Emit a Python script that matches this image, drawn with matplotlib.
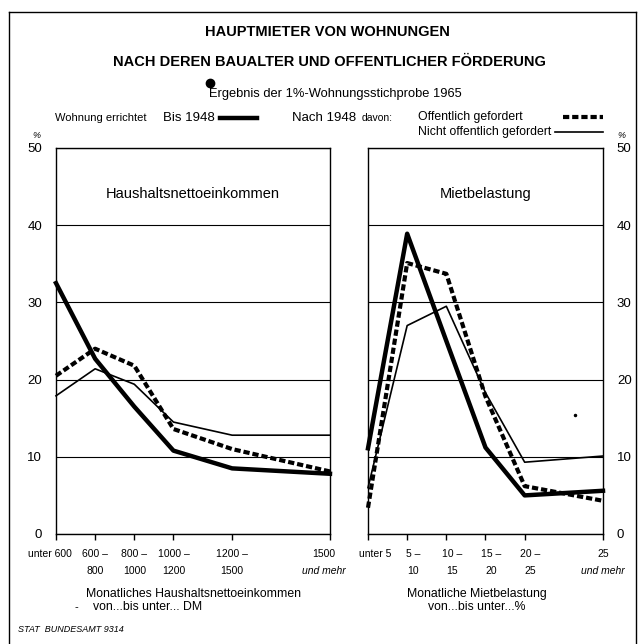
import matplotlib.pyplot as plt
from matplotlib.lines import Line2D

plt.rcParams['font.family'] = ['Liberation Sans', 'DejaVu Sans']

# Haushaltsnettoeinkommen (left panel)
inc_pos = [0, 1, 2, 3, 4.5, 7]
inc_row1 = ['unter 600', '600 –', '800 –', '1000 –', '1200 –', '1500']
inc_row2 = ['', '800', '1000', '1200', '1500', 'und mehr']
inc_bis1948 = [32.5, 22.7, 16.5, 10.8, 8.5, 7.8]
inc_oeff = [20.5, 24.0, 21.8, 13.6, 11.0, 8.1]
inc_nicht = [17.9, 21.4, 19.4, 14.5, 12.8, 12.8]

# Mietbelastung (right panel)
rent_pos = [0, 1, 2, 3, 4, 6]
rent_row1 = ['unter 5', '5 –', '10 –', '15 –', '20 –', '25']
rent_row2 = ['', '10', '15', '20', '25', 'und mehr']
rent_bis1948 = [11.1, 38.9, 25.0, 11.2, 5.0, 5.6]
rent_oeff = [3.4, 35.1, 33.7, 17.8, 6.2, 4.3]
rent_nicht = [6.0, 27.0, 29.5, 18.3, 9.3, 10.1]

yticks = [0, 10, 20, 30, 40, 50]

W = 644.0


def fx(x):
    return x / W


def fy(y):
    return 1 - y / W


fig = plt.figure(figsize=(6.44, 6.44), dpi=100)

# outer frame
for xs, ys in [([9, 636], [12, 12]), ([9, 9], [12, 650]), ([636, 636], [12, 650])]:
    fig.add_artist(Line2D([fx(v) for v in xs], [fy(v) for v in ys], color='black', lw=1))

ax1 = fig.add_axes([fx(56), fy(534), 274 / W, 386 / W])
ax2 = fig.add_axes([fx(368), fy(534), 235 / W, 386 / W])

# label nudges in points (first, middle, last)
panels = [
    (ax1, inc_pos, inc_row1, inc_row2, inc_bis1948, inc_oeff, inc_nicht,
     'Haushaltsnettoeinkommen', (-4.5, 0, -4.5)),
    (ax2, rent_pos, rent_row1, rent_row2, rent_bis1948, rent_oeff, rent_nicht,
     'Mietbelastung', (5, 4, 0)),
]

for ax, pos, row1, row2, a, b, c, title, nudge in panels:
    ax.plot(pos, c, color='black', lw=1.2, clip_on=False, zorder=3)
    ax.plot(pos, a, color='black', lw=3.2, clip_on=False, zorder=4)
    ax.plot(pos, b, color='black', lw=3.0, dashes=(1.5, 0.7), clip_on=False, zorder=5)
    ax.set_xlim(pos[0], pos[-1])
    ax.set_ylim(0, 50)
    ax.set_yticks(yticks)
    ax.grid(axis='y', color='black', lw=0.8)
    ax.set_axisbelow(True)
    ax.set_xticks(pos)
    ax.set_xticklabels([])
    ax.tick_params(axis='x', length=4, width=1, direction='out')
    ax.tick_params(axis='y', length=0, labelsize=9.5, pad=10)
    for sp in ax.spines.values():
        sp.set_linewidth(1)
    n = len(pos)
    for i, (p, t1, t2) in enumerate(zip(pos, row1, row2)):
        dx = nudge[0] if i == 0 else (nudge[2] if i == n - 1 else nudge[1])
        ax.annotate(t1, xy=(p, 0), xycoords=('data', 'axes fraction'),
                    xytext=(dx, -14.5), textcoords='offset points',
                    ha='center', va='center', fontsize=7.5)
        ax.annotate(t2, xy=(p, 0), xycoords=('data', 'axes fraction'),
                    xytext=(dx, -26.5), textcoords='offset points',
                    ha='center', va='center', fontsize=7.5,
                    style='italic' if 'mehr' in t2 else 'normal')
    ax.text(0.5, 0.88, title, transform=ax.transAxes, ha='center', va='center', fontsize=10.5)

ax2.yaxis.tick_right()
ax2.tick_params(axis='y', length=0, labelsize=9.5, pad=10)

# titles
fig.text(fx(327), fy(32), 'HAUPTMIETER VON WOHNUNGEN', ha='center', va='center',
         fontsize=10.5, fontweight='bold')
fig.text(fx(329), fy(62), 'NACH DEREN BAUALTER UND OFFENTLICHER FÖRDERUNG', ha='center',
         va='center', fontsize=10.5, fontweight='bold')
fig.text(fx(335), fy(94), 'Ergebnis der 1%-Wohnungsstichprobe 1965', ha='center', va='center',
         fontsize=9.3)

# legend
fig.text(fx(55), fy(118), 'Wohnung errichtet', va='center', fontsize=8)
fig.text(fx(163), fy(118), 'Bis 1948', va='center', fontsize=9.5)
fig.add_artist(Line2D([fx(220), fx(257)], [fy(118), fy(118)], color='black', lw=3.2))
fig.text(fx(292), fy(118), 'Nach 1948', va='center', fontsize=9.5)
fig.text(fx(362), fy(118), 'davon:', va='center', fontsize=7.5)
fig.text(fx(418), fy(117), 'Offentlich gefordert', va='center', fontsize=8.8)
fig.add_artist(Line2D([fx(563), fx(603)], [fy(117), fy(117)], color='black', lw=3.0,
                      dashes=(1.5, 0.7)))
fig.text(fx(418), fy(132), 'Nicht offentlich gefordert', va='center', fontsize=8.8)
fig.add_artist(Line2D([fx(555), fx(603)], [fy(132), fy(132)], color='black', lw=1.2))

fig.text(fx(36), fy(135), '%', ha='center', va='center', fontsize=6.5, style='italic')
fig.text(fx(621), fy(136), '%', ha='center', va='center', fontsize=6.5, style='italic')

# axis titles
fig.text(fx(194), fy(594), 'Monatliches Haushaltsnettoeinkommen', ha='center', va='center',
         fontsize=8.8)
fig.text(fx(76), fy(607), '-', ha='center', va='center', fontsize=8)
fig.text(fx(93), fy(607), 'von...bis unter... DM', ha='left', va='center', fontsize=8.8)
fig.text(fx(477), fy(594), 'Monatliche Mietbelastung', ha='center', va='center', fontsize=8.8)
fig.text(fx(477), fy(607), 'von...bis unter...%', ha='center', va='center', fontsize=8.8)

fig.text(fx(18), fy(630), 'STAT  BUNDESAMT 9314', va='center', fontsize=6.5, style='italic')

# scan specks
fig.add_artist(Line2D([fx(210)], [fy(83)], marker='o', ms=6, color='black', lw=0))
fig.add_artist(Line2D([fx(575)], [fy(415)], marker='o', ms=1.5, color='black', lw=0))

fig.savefig('out.png', dpi=100)
